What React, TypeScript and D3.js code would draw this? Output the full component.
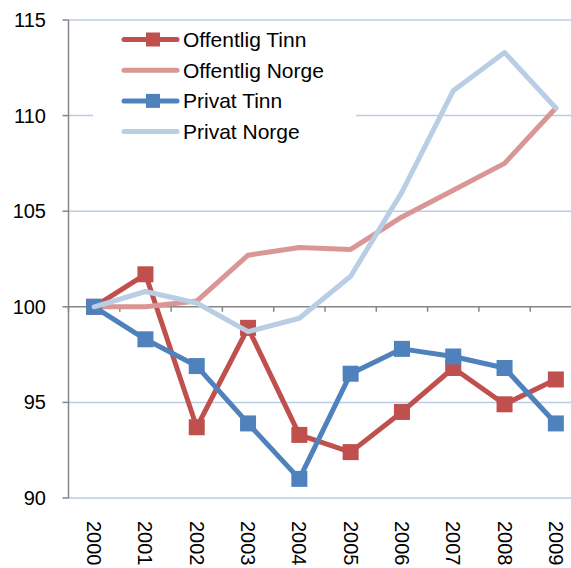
import * as d3 from "d3";

const years = ["2000", "2001", "2002", "2003", "2004", "2005", "2006", "2007", "2008", "2009"];
const offentligTinn = [100, 101.7, 93.7, 98.9, 93.3, 92.4, 94.5, 96.8, 94.9, 96.2];
const offentligNorge = [100, 100.0, 100.3, 102.7, 103.1, 103.0, 104.7, 106.1, 107.5, 110.4];
const privatTinn = [100, 98.3, 96.9, 93.9, 91.0, 96.5, 97.8, 97.4, 96.8, 93.9];
const privatNorge = [100, 100.8, 100.2, 98.7, 99.4, 101.6, 106.0, 111.3, 113.3, 110.4];
const yTicks = [90, 95, 100, 105, 110, 115];

const series = [
  { name: "Offentlig Tinn", values: offentligTinn, color: "#C0504D", marker: true },
  { name: "Offentlig Norge", values: offentligNorge, color: "#D99694", marker: false },
  { name: "Privat Tinn", values: privatTinn, color: "#4F81BD", marker: true },
  { name: "Privat Norge", values: privatNorge, color: "#B9CDE5", marker: false },
];

const App = () => {
  const width = 571;
  const height = 568;
  const left = 68.5;
  const top = 20;
  const bottom = 498;

  const x = d3.scaleBand().domain(years).range([left, left + 51.3 * 10]);
  const y = d3.scaleLinear().domain([90, 115]).range([bottom, top]);
  const cx = (d: string) => (x(d) as number) + x.bandwidth() / 2;

  const line = d3
    .line<number>()
    .x((_, i) => cx(years[i]))
    .y((d) => y(d));

  const font = "'Liberation Sans', Arial, sans-serif";

  return (
    <div style={{ position: "absolute", left: 0, top: 0 }}>
      <svg width={width} height={height} style={{ display: "block" }}>
        <rect width={width} height={height} fill="#fff" />
        {/* gridlines */}
        {yTicks.filter((t) => t !== 100).map((t) => (
          <line key={t} x1={left} x2={width} y1={y(t)} y2={y(t)} stroke="#B9CDE5" strokeWidth={1.5} />
        ))}
        {/* y axis */}
        <line x1={left} x2={left} y1={top} y2={bottom} stroke="#868686" strokeWidth={1.5} />
        {yTicks.map((t) => (
          <g key={t}>
            <line x1={left - 6} x2={left} y1={y(t)} y2={y(t)} stroke="#868686" strokeWidth={1.5} />
            <text x={46} y={y(t)} dy="0.35em" textAnchor="end" fontSize={20} fontFamily={font} fill="#000">
              {t}
            </text>
          </g>
        ))}
        {/* category axis crossing at 100 */}
        <line x1={left} x2={width} y1={y(100)} y2={y(100)} stroke="#868686" strokeWidth={1.5} />
        {years.map((yr) => (
          <line key={yr} x1={x(yr) as number} x2={x(yr) as number} y1={y(100)} y2={y(100) + 5} stroke="#868686" strokeWidth={1.5} />
        ))}
        {/* x labels */}
        {years.map((yr) => (
          <text
            key={yr}
            transform={`translate(${cx(yr) - 7},521) rotate(90)`}
            fontSize={20}
            fontFamily={font}
            fill="#000"
          >
            {yr}
          </text>
        ))}
        {/* series */}
        {series.map((s) => (
          <g key={s.name}>
            <path d={line(s.values) || ""} fill="none" stroke={s.color} strokeWidth={5} strokeLinejoin="round" strokeLinecap="round" />
            {s.marker &&
              s.values.map((v, i) => (
                <rect key={i} x={cx(years[i]) - 8} y={y(v) - 8} width={16} height={16} fill={s.color} />
              ))}
          </g>
        ))}
        {/* legend */}
        <rect x={93} y={23} width={263} height={124} fill="#fff" />
        {series.map((s, i) => {
          const ly = 39.5 + i * 30.7;
          return (
            <g key={s.name}>
              <line x1={124} x2={177} y1={ly} y2={ly} stroke={s.color} strokeWidth={5} strokeLinecap="round" />
              {s.marker && <rect x={146} y={ly - 7} width={14} height={14} fill={s.color} />}
              <text x={183} y={ly} dy="0.36em" fontSize={21} fontFamily={font} fill="#000">
                {s.name}
              </text>
            </g>
          );
        })}
      </svg>
    </div>
  );
};

export default App;
